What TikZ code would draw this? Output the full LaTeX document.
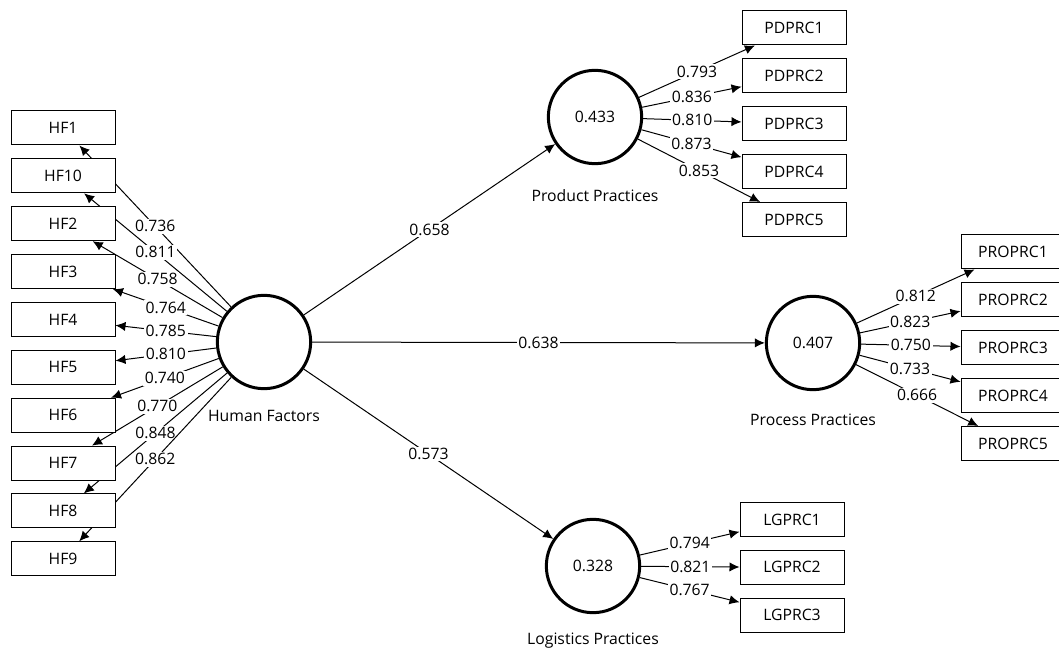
\documentclass[tikz,border=0pt]{standalone}
\usepackage{fontspec}
\setmainfont{Open Sans}
\usepackage{tikz}
\usetikzlibrary{arrows.meta,positioning}
\pgfdeclarelayer{bg}
\pgfsetlayers{bg,main}

\tikzset{
  ind/.style={rectangle, draw, fill=white, line width=0.75pt, minimum width=78pt, minimum height=25.5pt, inner sep=0pt},
  lv/.style={circle, draw, fill=white, line width=2.25pt, minimum size=70pt, inner sep=0pt},
  load/.style={-{Latex[length=7.5pt,width=7pt]}, line width=0.75pt},
  val/.style={fill=white, inner sep=1.2pt}
}

\begin{document}
\begin{tikzpicture}[x=0.75pt, y=-0.75pt, font=\fontsize{11.8}{14}\selectfont, node distance=35.9pt, on grid]
    \useasboundingbox (0,0) rectangle (1059,648);

    % latent variables
    \node (hf) [lv, label={[label distance=11.5pt]below:Human Factors}] at (264,342) {};
    \node (pdp) [lv, label={[label distance=14.5pt]below:Product Practices}] at (595,117) {0.433};
    \node (prp) [lv, label={[label distance=13.5pt]below:Process Practices}] at (813,343) {0.407};
    \node (lgp) [lv, label={[label distance=10.5pt]below:Logistics Practices}] at (593,566) {0.328};

    % human factors indicators
    \node (hf1) [ind] at (63,128) {HF1};
    \node (hf10) [ind, below=of hf1] {HF10};
    \node (hf2) [ind, below=of hf10] {HF2};
    \node (hf3) [ind, below=of hf2] {HF3};
    \node (hf4) [ind, below=of hf3] {HF4};
    \node (hf5) [ind, below=of hf4] {HF5};
    \node (hf6) [ind, below=of hf5] {HF6};
    \node (hf7) [ind, below=of hf6] {HF7};
    \node (hf8) [ind, below=of hf7] {HF8};
    \node (hf9) [ind, below=of hf8] {HF9};

    % product practices indicators
    \node (pd1) [ind] at (794,28) {PDPRC1};
    \node (pd2) [ind, below=of pd1] {PDPRC2};
    \node (pd3) [ind, below=of pd2] {PDPRC3};
    \node (pd4) [ind, below=of pd3] {PDPRC4};
    \node (pd5) [ind, below=of pd4] {PDPRC5};

    % process practices indicators
    \node (pr1) [ind] at (1013,252) {PROPRC1};
    \node (pr2) [ind, below=of pr1] {PROPRC2};
    \node (pr3) [ind, below=of pr2] {PROPRC3};
    \node (pr4) [ind, below=of pr3] {PROPRC4};
    \node (pr5) [ind, below=of pr4] {PROPRC5};

    % logistics practices indicators
    \node (lg1) [ind] at (792,519.5) {LGPRC1};
    \node (lg2) [ind, below=of lg1] {LGPRC2};
    \node (lg3) [ind, below=of lg2] {LGPRC3};

    \begin{pgfonlayer}{bg}
    % loadings
    \draw [load] (hf) -- node [val] {0.736} (hf1);
    \draw [load] (hf) -- node [val] {0.811} (hf10);
    \draw [load] (hf) -- node [val] {0.758} (hf2);
    \draw [load] (hf) -- node [val] {0.764} (hf3);
    \draw [load] (hf) -- node [val] {0.785} (hf4);
    \draw [load] (hf) -- node [val] {0.810} (hf5);
    \draw [load] (hf) -- node [val] {0.740} (hf6);
    \draw [load] (hf) -- node [val] {0.770} (hf7);
    \draw [load] (hf) -- node [val] {0.848} (hf8);
    \draw [load] (hf) -- node [val] {0.862} (hf9);

    \draw [load] (pdp) -- node [val] {0.793} (pd1);
    \draw [load] (pdp) -- node [val] {0.836} (pd2);
    \draw [load] (pdp) -- node [val] {0.810} (pd3);
    \draw [load] (pdp) -- node [val] {0.873} (pd4);
    \draw [load] (pdp) -- node [val] {0.853} (pd5);

    \draw [load] (prp) -- node [val] {0.812} (pr1);
    \draw [load] (prp) -- node [val] {0.823} (pr2);
    \draw [load] (prp) -- node [val] {0.750} (pr3);
    \draw [load] (prp) -- node [val] {0.733} (pr4);
    \draw [load] (prp) -- node [val] {0.666} (pr5);

    \draw [load] (lgp) -- node [val] {0.794} (lg1);
    \draw [load] (lgp) -- node [val] {0.821} (lg2);
    \draw [load] (lgp) -- node [val] {0.767} (lg3);

    % paths
    \draw [load] (hf) -- node [val] {0.658} (pdp);
    \draw [load] (hf) -- node [val] {0.638} (prp);
    \draw [load] (hf) -- node [val] {0.573} (lgp);
    \end{pgfonlayer}
\end{tikzpicture}
\end{document}
